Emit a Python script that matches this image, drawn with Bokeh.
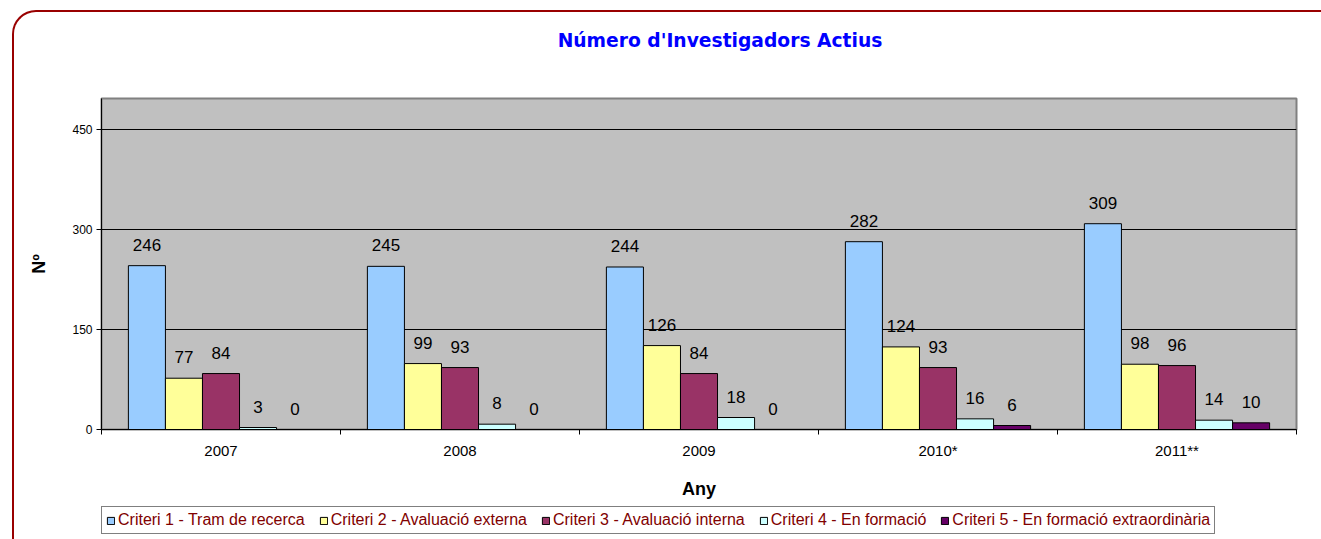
import numpy as np
from bokeh.plotting import figure
from bokeh.layouts import column
from bokeh.core.properties import value
from bokeh.models import (ColumnDataSource, FixedTicker, LabelSet, Label, Legend,
                          LegendItem, Range1d)
from bokeh.embed import file_html
from bokeh.resources import INLINE

years = ["2007", "2008", "2009", "2010*", "2011**"]
criteri1 = [246, 245, 244, 282, 309]
criteri2 = [77, 99, 126, 124, 98]
criteri3 = [84, 93, 84, 93, 96]
criteri4 = [3, 8, 18, 16, 14]
criteri5 = [0, 0, 0, 6, 10]
series_values = [criteri1, criteri2, criteri3, criteri4, criteri5]
series_names = [
    "Criteri 1 - Tram de recerca",
    "Criteri 2 - Avaluació externa",
    "Criteri 3 - Avaluació interna",
    "Criteri 4 - En formació",
    "Criteri 5 - En formació extraordinària",
]
series_colors = ["#99CCFF", "#FFFF99", "#993366", "#CCFFFF", "#660066"]
y_ticks = [0, 150, 300, 450]
chart_title = "Número d'Investigadors Actius"

BAR_W = 0.155
n = len(years)
centers = np.arange(n) + 0.5
W = 1307


def blank_figure(h):
    # strip whose frame is aligned (by the column layout) with the main chart frame;
    # its x range is expressed in page pixels of that frame (101 .. 1296)
    f = figure(width=W, height=h, x_range=Range1d(101, 1296), y_range=Range1d(0, h),
               output_backend="svg", toolbar_location=None,
               x_axis_location=None, y_axis_location=None,
               min_border=0, outline_line_color=None,
               background_fill_alpha=0.0, border_fill_alpha=0.0)
    f.grid.visible = False
    return f


# ---- title strip ----
p0 = blank_figure(84)
p0.add_layout(Label(x=719.5, y=56, text=chart_title, text_align="center",
                    text_baseline="middle", text_color="#0000FF",
                    text_font="DejaVu Sans", text_font_style="bold",
                    text_font_size="18.7px"))

# ---- main chart ----
p = figure(
    width=W, height=406,
    x_range=Range1d(0, n), y_range=Range1d(0, 497),
    output_backend="svg", toolbar_location=None,
    min_border_left=87, min_border_right=25, min_border_top=2, min_border_bottom=73,
    background_fill_color="#C0C0C0",
    border_fill_alpha=0.0,
    outline_line_color="#808080", outline_line_width=2,
)

p.xaxis.ticker = FixedTicker(ticks=list(centers), minor_ticks=list(range(n + 1)))
p.xaxis.major_label_overrides = {float(c): y for c, y in zip(centers, years)}
p.xaxis.major_tick_line_color = None
p.xaxis.major_tick_out = 0
p.xaxis.major_tick_in = 0
p.xaxis.minor_tick_out = 5
p.xaxis.minor_tick_in = 0
p.xaxis.minor_tick_line_color = "black"
p.xaxis.axis_line_color = "black"
p.xaxis.major_label_text_font = "Liberation Sans"
p.xaxis.major_label_text_font_size = "15px"
p.xaxis.major_label_text_color = "black"
p.xaxis.major_label_standoff = 7
p.xaxis.axis_label = "Any"
p.xaxis.axis_label_text_font = "Liberation Sans"
p.xaxis.axis_label_text_font_style = "bold"
p.xaxis.axis_label_text_font_size = "18px"
p.xaxis.axis_label_text_color = "black"
p.xaxis.axis_label_standoff = 17

p.yaxis.ticker = FixedTicker(ticks=y_ticks)
p.yaxis.minor_tick_line_color = None
p.yaxis.major_tick_out = 5
p.yaxis.major_tick_in = 0
p.yaxis.major_tick_line_color = "black"
p.yaxis.axis_line_color = "black"
p.yaxis.major_label_text_font = "Liberation Sans"
p.yaxis.major_label_text_font_size = "12px"
p.yaxis.major_label_text_color = "black"
p.yaxis.major_label_standoff = 4
p.yaxis.axis_label = "Nº"
p.yaxis.axis_label_text_font = "Liberation Sans"
p.yaxis.axis_label_text_font_style = "bold"
p.yaxis.axis_label_text_font_size = "18px"
p.yaxis.axis_label_text_color = "black"
p.yaxis.axis_label_standoff = 20

p.xgrid.grid_line_color = None
p.ygrid.grid_line_color = "black"
p.ygrid.grid_line_alpha = 1.0

for k, (vals, col) in enumerate(zip(series_values, series_colors)):
    src = ColumnDataSource(dict(x=centers + (k - 2) * BAR_W, top=vals,
                                label=[str(v) for v in vals]))
    p.vbar(x="x", top="top", bottom=0, width=BAR_W, source=src,
           fill_color=col, line_color="black", line_width=1)
    p.add_layout(LabelSet(x="x", y="top", text="label", source=src,
                          text_align=value("center"), text_baseline=value("alphabetic"),
                          y_offset=15,
                          text_font=value("Liberation Sans"), text_font_size=value("17px"),
                          text_color=value("black")))

# ---- legend strip ----
p2 = blank_figure(37)
items = []
for name, col in zip(series_names, series_colors):
    proxy_src = ColumnDataSource(dict(x=[np.nan], top=[np.nan]))
    proxy = p2.vbar(x="x", top="top", bottom=0, width=1, source=proxy_src,
                    fill_color=col, line_color="black", line_width=1)
    items.append(LegendItem(label=name, renderers=[proxy]))
legend = Legend(items=items, orientation="horizontal", location=(0, 5),
                label_text_font="Liberation Sans", label_text_font_size="16px",
                label_text_color="#800000", glyph_width=9, glyph_height=9,
                label_standoff=3, spacing=14, padding=4, margin=0,
                border_line_color="black", border_line_width=1,
                background_fill_color="white", label_height=14)
p2.add_layout(legend, "center")

layout = column(p0, p, p2, spacing=0, margin=(10, 0, 0, 12))
layout.styles = {
    "border-left": "2px solid #990000",
    "border-top": "2px solid #990000",
    "border-top-left-radius": "24px",
}

open("out.html", "w").write(file_html(layout, INLINE))
